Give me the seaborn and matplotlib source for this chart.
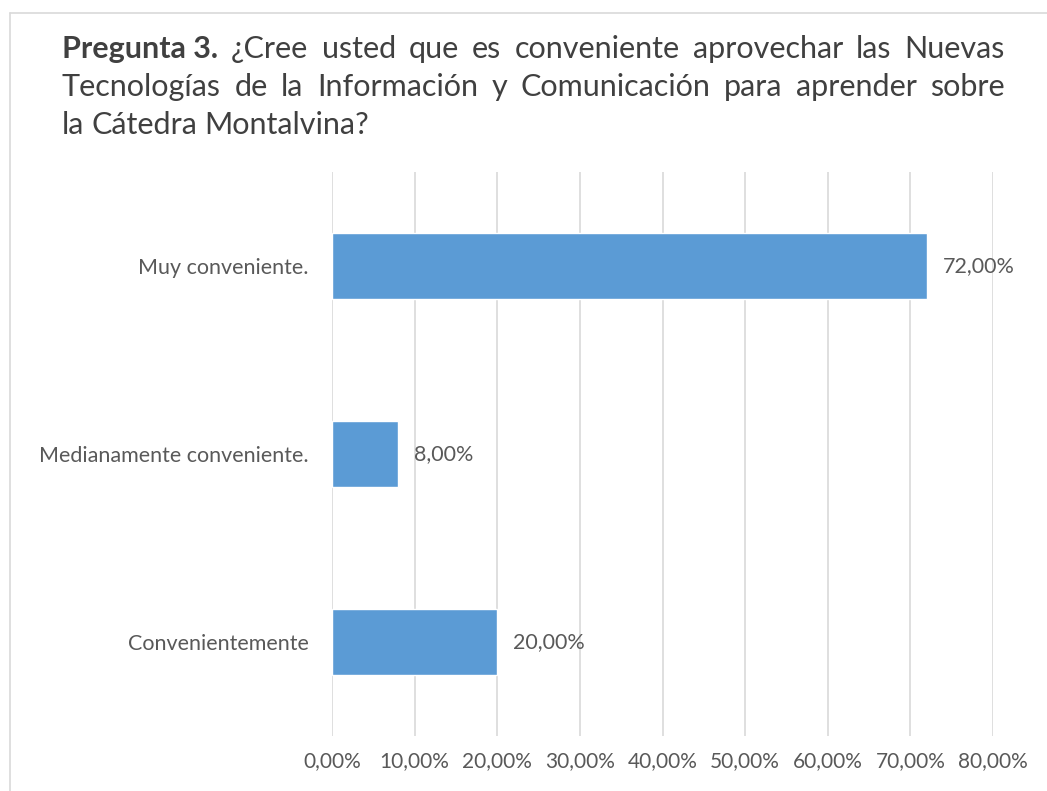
import matplotlib
matplotlib.use("Agg")
import matplotlib.pyplot as plt
import seaborn as sns
from matplotlib.lines import Line2D
from matplotlib.ticker import FuncFormatter

# Data
categorias = ["Muy conveniente.", "Medianamente conveniente.", "Convenientemente"]
porcentajes = [72.0, 8.0, 20.0]
ticks = [0, 10, 20, 30, 40, 50, 60, 70, 80]

titulo_lineas = [
    [("Pregunta 3.", "bold"), ("¿Cree", "normal"), ("usted", "normal"), ("que", "normal"),
     ("es", "normal"), ("conveniente", "normal"), ("aprovechar", "normal"), ("las", "normal"),
     ("Nuevas", "normal")],
    [(w, "normal") for w in "Tecnologías de la Información y Comunicación para aprender sobre".split()],
    [(w, "normal") for w in "la Cátedra Montalvina?".split()],
]

sns.set_style("white")
plt.rcParams["font.family"] = ["Lato", "DejaVu Sans"]

W, H = 1047, 791
fig = plt.figure(figsize=(W / 100, H / 100), dpi=100)
ax = fig.add_axes([332 / W, 1 - 736 / H, (993 - 332) / W, (736 - 172) / H])

gris = "#595959"
sns.barplot(x=porcentajes, y=categorias, color="#5B9BD5", width=0.35,
            saturation=1, ax=ax, zorder=3)

ax.set_xlim(0, 80)
ax.set_ylim(2.5, -0.5)
ax.set_xticks(ticks)
ax.xaxis.set_major_formatter(FuncFormatter(lambda v, p: f"{v:.2f}".replace(".", ",") + "%"))
ax.grid(axis="x", color="#D9D9D9", linewidth=1.2, zorder=0)
ax.grid(axis="y", visible=False)
for s in ax.spines.values():
    s.set_visible(False)
ax.tick_params(axis="x", length=0, pad=11, labelsize=15, labelcolor=gris)
ax.tick_params(axis="y", length=0, pad=17, labelsize=15.5, labelcolor=gris)
ax.set_xlabel("")
ax.set_ylabel("")

for i, v in enumerate(porcentajes):
    ax.annotate(f"{v:.2f}".replace(".", ",") + "%", xy=(v, i), xytext=(16, 0),
                textcoords="offset pixels", va="center", ha="left",
                fontsize=15.5, color=gris)

# Title, justified lines
renderer = fig.canvas.get_renderer()
x0, x1 = 62, 1005
ys = [49, 87, 125]
for n, (linea, yc) in enumerate(zip(titulo_lineas, ys)):
    arts = []
    for palabra, peso in linea:
        t = fig.text(0, 1 - yc / H, palabra, fontsize=22, fontweight=peso,
                     color="#404040", va="center", ha="left")
        arts.append(t)
    anchos = [a.get_window_extent(renderer).width for a in arts]
    espacio_normal = 7
    if n < len(titulo_lineas) - 1 and len(arts) > 1:
        espacio = (x1 - x0 - sum(anchos)) / (len(arts) - 1)
    else:
        espacio = espacio_normal
    x = x0
    for a, w in zip(arts, anchos):
        a.set_x(x / W)
        x += w + espacio

# Chart frame (top and left edges)
borde = "#D9D9D9"
fig.add_artist(Line2D([10 / W, 1], [1 - 12.5 / H, 1 - 12.5 / H], color=borde, linewidth=1.2))
fig.add_artist(Line2D([10 / W, 10 / W], [0, 1 - 12.5 / H], color=borde, linewidth=1.2))

fig.savefig("out.png", dpi=100)
